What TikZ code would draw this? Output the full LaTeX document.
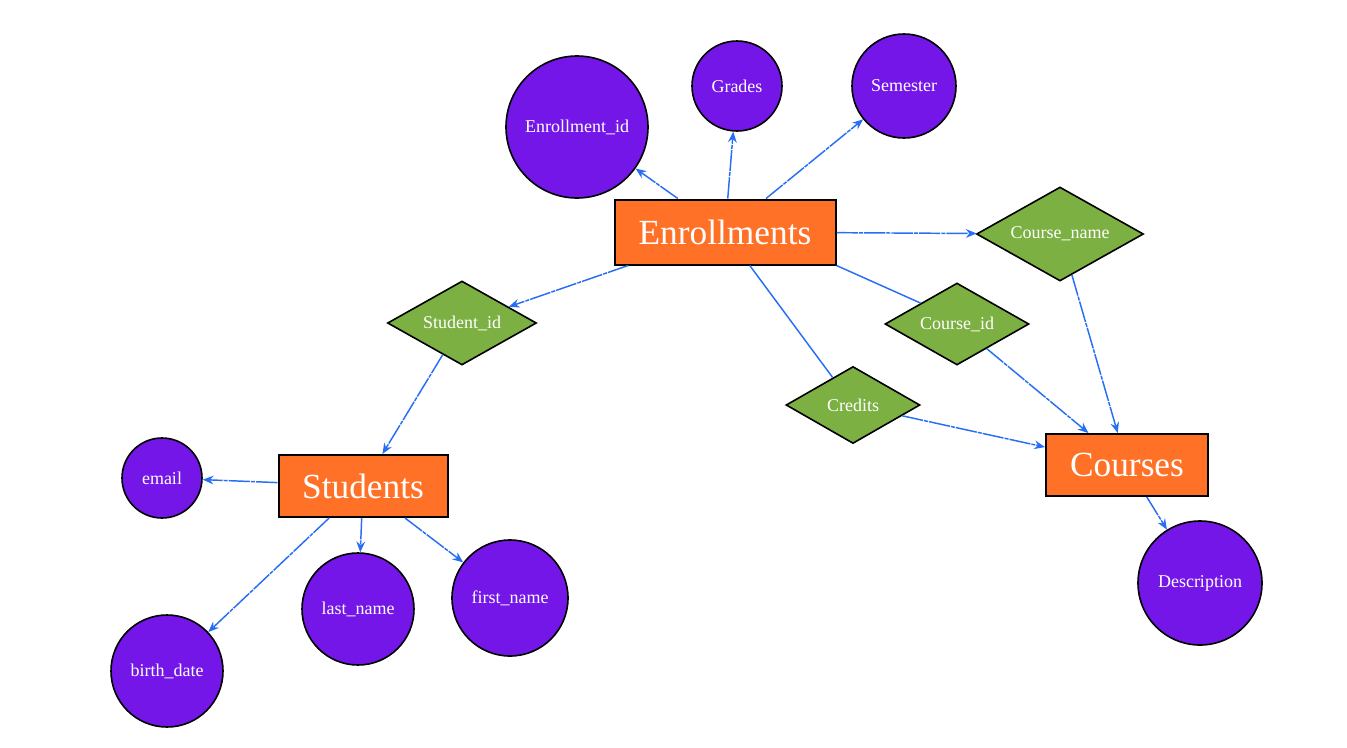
\documentclass[tikz,border=0pt]{standalone}
\usepackage{fontspec}
\setmainfont{Liberation Serif}
\usepackage{tikz}
\usetikzlibrary{arrows.meta,shapes.geometric}

\definecolor{entorange}{RGB}{255,113,38}
\definecolor{attrpurple}{RGB}{116,22,232}
\definecolor{keygreen}{RGB}{124,176,66}
\definecolor{linkblue}{RGB}{40,110,245}

\begin{document}
\begin{tikzpicture}[
  x=0.75pt, y=-0.75pt,
  entity/.style={draw, line width=1.5pt, fill=entorange, text=white,
              inner sep=0pt, font=\fontsize{26.5}{30}\selectfont},
  attr/.style={draw, circle, line width=1.2pt, fill=attrpurple, text=white,
              inner sep=0pt, font=\fontsize{13.5}{16}\selectfont},
  keyattr/.style={draw, diamond, aspect=1.8, line width=1.2pt, fill=keygreen,
              text=white, inner sep=0pt, font=\fontsize{13.5}{16}\selectfont},
  every edge/.style={draw, linkblue, line width=1.1pt,
              dash pattern=on 16pt off 0.8pt on 3pt off 0.8pt},
  arr/.style={-{Stealth[length=8pt,width=6.5pt]}}
]
  \useasboundingbox (0,0) rectangle (1347,747);

  % entities
  \node[entity, minimum width=165.75pt, minimum height=48.75pt] (enroll) at (725,232) {Enrollments};
  \node[entity, minimum width=126.75pt, minimum height=46.5pt]  (stud)   at (363,486) {Students};
  \node[entity, minimum width=121.5pt,  minimum height=46.5pt]  (course) at (1127,465) {Courses};

  % key attributes
  \node[keyattr, minimum width=111.75pt, minimum height=63pt]   (sid)   at (462,323)  {Student\_id};
  \node[keyattr, minimum width=125.25pt, minimum height=70.5pt] (cname) at (1060,234) {Course\_name};
  \node[keyattr, minimum width=108pt,    minimum height=61.5pt] (cid)   at (957,324)  {Course\_id};
  \node[keyattr, minimum width=100.5pt,  minimum height=57.75pt] (cred) at (853,405)  {Credits};

  % attributes
  \node[attr, minimum size=106.5pt] (eid)   at (577,127)  {Enrollment\_id};
  \node[attr, minimum size=67.5pt]  (grade) at (737,86)   {Grades};
  \node[attr, minimum size=78pt]    (sem)   at (904,86)   {Semester};
  \node[attr, minimum size=60pt]    (email) at (162,478)  {email};
  \node[attr, minimum size=84pt]    (bdate) at (167,671)  {birth\_date};
  \node[attr, minimum size=84pt]    (lname) at (358,609)  {last\_name};
  \node[attr, minimum size=87pt]    (fname) at (510,598)  {first\_name};
  \node[attr, minimum size=93pt]    (desc)  at (1200,583) {Description};

  \path (enroll) edge[arr] (eid);
  \path (enroll) edge[arr] (grade);
  \path (enroll) edge[arr] (sem);
  \path (enroll) edge[arr] (cname);
  \path (enroll) edge[arr] (sid);
  \path (enroll.south east) edge[solid] (cid.north west);
  \path (enroll) edge[solid] (cred);

  \path (sid)   edge[arr] (stud);
  \path (cname) edge[arr] (course);
  \path (cid)   edge[arr] (course);
  \path (cred)  edge[arr] (course);

  \path (stud) edge[arr] (email);
  \path (stud) edge[arr] (bdate);
  \path (stud) edge[arr] (lname);
  \path (stud) edge[arr] (fname);

  \path (course) edge[arr] (desc);
\end{tikzpicture}
\end{document}
